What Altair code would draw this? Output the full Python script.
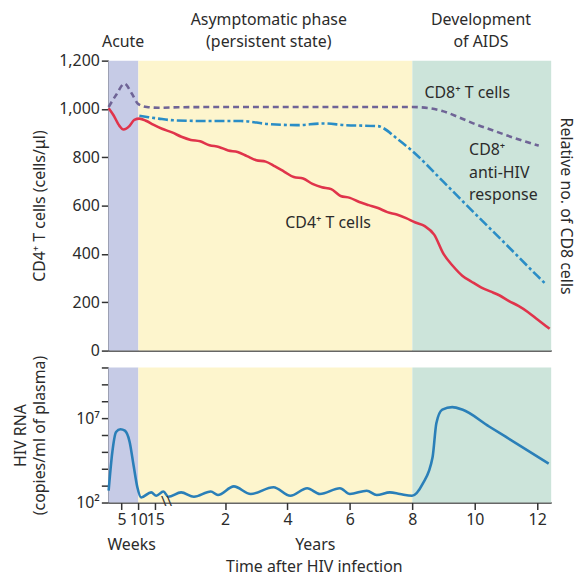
import altair as alt
import pandas as pd

FONT = "Noto Sans"
TEXT = "#2b2b2b"
W = 446
H_TOP = 292
H_BOT = 136

# ---------- broken time axis: a "weeks" segment followed by "years" ----------
WEEK_TICKS = [5, 10, 15]
YEAR_TICKS = [2, 4, 6, 8, 10, 12]


def wk(w):
    """position of a time given in weeks on the broken axis (years run 1:1)"""
    return -1.863 + 0.1083 * w


AXIS_START = wk(1.1)
AXIS_END = 12.45

# ---------- phases ----------
phase_names = ["Acute", "Asymptomatic", "AIDS"]
phase_start = [AXIS_START, wk(10), 8.0]
phase_end = [wk(10), 8.0, AXIS_END]
phase_colors = ["#c6cbe6", "#fdf5cd", "#cce4da"]
phase_label_x = [wk(5.5), 3.4, 10.2]
phase_label_upper = ["", "Asymptomatic phase", "Development"]
phase_label_lower = ["Acute", "(persistent state)", "of AIDS"]

# ---------- CD4+ T cells (cells/ul) ----------
cd4_weeks = [1.2, 2.6, 4.4, 5.6, 7.4, 8.8, 10.3, 12.4, 14.4, 17]
cd4_weeks_vals = [1003, 975, 930, 915, 930, 955, 960, 950, 935, 918]
cd4_years = [0.3, 0.6, 0.9, 1.2, 1.5, 1.8, 2.1, 2.4, 2.7, 3.0, 3.3, 3.6, 3.9,
             4.2, 4.5, 4.8, 5.1, 5.4, 5.7, 6.0, 6.3, 6.6, 6.9, 7.2, 7.5, 7.8,
             8.1, 8.4, 8.7, 9.0, 9.3, 9.6, 9.9, 10.2, 10.5, 10.8, 11.1, 11.4,
             11.7, 12.0, 12.3, 12.4]
cd4_years_vals = [903, 885, 872, 866, 850, 843, 828, 822, 805, 788, 782, 762, 740,
                  718, 712, 690, 676, 668, 640, 632, 615, 602, 590, 573, 563, 548,
                  530, 515, 480, 400, 350, 310, 285, 262, 245, 228, 205, 185,
                  160, 130, 100, 90]

# ---------- CD8+ T cells (relative) ----------
cd8_weeks = [1.2, 3.5, 5.9, 8.0, 10.0, 12.5, 16]
cd8_weeks_vals = [1008, 1060, 1105, 1065, 1020, 1008, 1005]
cd8_years = [0.5, 2, 4, 6, 8.0, 8.5, 9.0, 9.5, 10.0, 10.5, 11.0, 11.5, 12.05]
cd8_years_vals = [1007, 1008, 1008, 1008, 1008, 1004, 990, 965, 938, 915, 892, 870, 848]

# ---------- CD8+ anti-HIV response (relative) ----------
ahiv_weeks = [10.3, 13, 16]
ahiv_weeks_vals = [972, 966, 960]
ahiv_years = [0.35, 1.45, 2.5, 3.36, 4.3, 5.14, 5.86, 6.9, 7.05, 7.5, 8.0, 9.0,
              10.0, 11.0, 12.0, 12.3]
ahiv_years_vals = [953, 950, 950, 938, 933, 940, 933, 929, 922, 878, 826, 698,
                   568, 440, 310, 272]

# ---------- HIV RNA (copies/ml of plasma) ----------
rna_weeks = [1.2, 2.3, 3.4, 4.7, 6.0, 7.4, 8.6, 9.7, 10.8, 13.8, 15.3, 17.4]
rna_weeks_vals = [5e2, 1e5, 1.5e6, 2.2e6, 1.8e6, 4e5, 1.5e4, 8e2, 2e2, 4e2, 2.5e2, 4.5e2]
rna_years = [0.18, 0.59, 1.0, 1.54, 1.77, 2.28, 2.82, 3.55, 4.09, 4.63, 5.04,
             5.68, 6.0, 6.54, 6.86, 7.28, 7.6, 7.99, 8.33, 8.65, 8.77, 8.96,
             9.28, 9.6, 10.46, 11.51, 12.37]
rna_years_vals = [220, 400, 220, 450, 280, 900, 320, 800, 250, 700, 320,
                  700, 320, 500, 280, 400, 320, 250, 1260, 5e4, 5e6, 3.2e7,
                  4.5e7, 3.2e7, 3.2e6, 2e5, 2e4]

RNA_TICKS = [10 ** k for k in range(2, 11)]
CD4_TICKS = [0, 200, 400, 600, 800, 1000, 1200]


def series(weeks, wvals, years, yvals):
    t = [wk(w) for w in weeks] + list(years)
    return pd.DataFrame({"t": t, "value": list(wvals) + list(yvals)})


cd4_df = series(cd4_weeks, cd4_weeks_vals, cd4_years, cd4_years_vals)
cd8_df = series(cd8_weeks, cd8_weeks_vals, cd8_years, cd8_years_vals)
ahiv_df = series(ahiv_weeks, ahiv_weeks_vals, ahiv_years, ahiv_years_vals)
rna_df = series(rna_weeks, rna_weeks_vals, rna_years, rna_years_vals)

phase_df = pd.DataFrame({"phase": phase_names, "start": phase_start, "end": phase_end})
upper_df = pd.DataFrame({"t": phase_label_x, "text": phase_label_upper})
lower_df = pd.DataFrame({"t": phase_label_x, "text": phase_label_lower})

inner_df = pd.DataFrame({
    "t": [8.39, 9.82, 9.82, 9.82, 3.93],
    "value": [1064, 830, 736, 645, 526],
    "text": ["CD8\u207a T cells", "CD8\u207a", "anti-HIV", "response", "CD4\u207a T cells"],
})

tick_vals = [wk(w) for w in WEEK_TICKS] + YEAR_TICKS
tick_labels = [str(w) for w in WEEK_TICKS] + [str(y) for y in YEAR_TICKS]
label_expr = "".join(
    f"abs(datum.value - ({v:.4f})) < 0.01 ? '{l}' : " for v, l in zip(tick_vals, tick_labels)
) + "''"

xscale = alt.Scale(domain=[AXIS_START, AXIS_END], nice=False, zero=False)
phase_color = alt.Color("phase:N", scale=alt.Scale(domain=phase_names, range=phase_colors), legend=None)

# ---------------- top panel ----------------
top_xaxis = alt.Axis(labels=False, ticks=False, title=None, grid=False, domain=True,
                     minExtent=0, maxExtent=0)
ytop = alt.Scale(domain=[0, 1200], nice=False)

bg_top = alt.Chart(phase_df).mark_rect().encode(
    x=alt.X("start:Q", scale=xscale, axis=top_xaxis), x2="end:Q",
    y=alt.value(0), y2=alt.value(H_TOP), color=phase_color)

cd4_line = alt.Chart(cd4_df).mark_line(color="#e0344b", strokeWidth=2.6, interpolate="monotone").encode(
    x=alt.X("t:Q", scale=xscale, axis=top_xaxis),
    y=alt.Y("value:Q", scale=ytop, axis=alt.Axis(
        values=CD4_TICKS, format=",.0f", title="CD4\u207a T cells (cells/\u03bcl)", grid=False,
        minExtent=56, maxExtent=56, titlePadding=5)))

cd8_line = alt.Chart(cd8_df).mark_line(color="#6f6496", strokeWidth=2.6, strokeDash=[6, 4],
                                       interpolate="monotone").encode(
    x=alt.X("t:Q", scale=xscale, axis=top_xaxis),
    y=alt.Y("value:Q", scale=ytop, axis=alt.Axis(
        orient="right", labels=False, ticks=False, domain=False, grid=False,
        title="Relative no. of CD8 cells", titlePadding=6)))

ahiv_line = alt.Chart(ahiv_df).mark_line(color="#2a8dc6", strokeWidth=2.6, strokeDash=[10, 3, 3, 3],
                                         interpolate="monotone").encode(
    x=alt.X("t:Q", scale=xscale, axis=top_xaxis),
    y=alt.Y("value:Q", scale=ytop, axis=None))

inner_text = alt.Chart(inner_df).mark_text(align="left", baseline="middle", font=FONT,
                                           fontSize=16, color=TEXT).encode(
    x=alt.X("t:Q", scale=xscale, axis=top_xaxis),
    y=alt.Y("value:Q", scale=ytop, axis=None), text="text:N")

upper_text = alt.Chart(upper_df).mark_text(align="center", baseline="middle", font=FONT,
                                           fontSize=16, color=TEXT).encode(
    x=alt.X("t:Q", scale=xscale, axis=top_xaxis), y=alt.value(-41), text="text:N")
lower_text = alt.Chart(lower_df).mark_text(align="center", baseline="middle", font=FONT,
                                           fontSize=16, color=TEXT).encode(
    x=alt.X("t:Q", scale=xscale, axis=top_xaxis), y=alt.value(-19), text="text:N")

top = alt.layer(bg_top, cd4_line, cd8_line, ahiv_line, inner_text, upper_text, lower_text).resolve_axis(
    y="independent").properties(width=W, height=H_TOP)

# ---------------- bottom panel ----------------
bot_xaxis = alt.Axis(values=tick_vals, labelExpr=label_expr, labelOverlap=False, labelFlush=False,
                     title=None, grid=False, labelPadding=2)
ybot = alt.Scale(type="log", domain=[1e2, 1e10], nice=False)

bg_bot = alt.Chart(phase_df).mark_rect().encode(
    x=alt.X("start:Q", scale=xscale, axis=bot_xaxis), x2="end:Q",
    y=alt.value(0), y2=alt.value(H_BOT), color=phase_color)

rna_line = alt.Chart(rna_df).mark_line(color="#2a7fb8", strokeWidth=2.6, interpolate="monotone").encode(
    x=alt.X("t:Q", scale=xscale, axis=bot_xaxis),
    y=alt.Y("value:Q", scale=ybot, axis=alt.Axis(
        values=RNA_TICKS, grid=False, labelOverlap=False,
        labelExpr="datum.value == 100 ? '10\u00b2' : (datum.value == 10000000 ? '10\u2077' : '')",
        title=["HIV RNA", "(copies/ml of plasma)"], titleLineHeight=19,
        minExtent=56, maxExtent=56, titlePadding=5)))

units_df = pd.DataFrame({"t": [wk(8), 4.89], "text": ["Weeks", "Years"]})
units_text = alt.Chart(units_df).mark_text(align="center", baseline="middle", font=FONT,
                                           fontSize=16, color=TEXT).encode(
    x=alt.X("t:Q", scale=xscale, axis=bot_xaxis), y=alt.value(H_BOT + 43), text="text:N")

title_df = pd.DataFrame({"t": [4.86], "text": ["Time after HIV infection"]})
title_text = alt.Chart(title_df).mark_text(align="center", baseline="middle", font=FONT,
                                           fontSize=16, color=TEXT).encode(
    x=alt.X("t:Q", scale=xscale, axis=bot_xaxis), y=alt.value(H_BOT + 65), text="text:N")

break_df = pd.DataFrame({"t": [0.12], "text": ["\\\\"]})
break_mark = alt.Chart(break_df).mark_text(align="center", baseline="middle", font=FONT,
                                           fontSize=15, color="#333333").encode(
    x=alt.X("t:Q", scale=xscale, axis=bot_xaxis), y=alt.value(H_BOT - 2), text="text:N")

bottom = alt.layer(bg_bot, rna_line, units_text, title_text, break_mark).properties(width=W, height=H_BOT)

chart = alt.vconcat(top, bottom, spacing=17, bounds="flush").properties(
    padding={"left": 5, "top": 2, "right": 4, "bottom": 0}
).configure_view(stroke=None).configure_axis(
    domainColor="#333333", domainWidth=1.5, tickColor="#333333", tickWidth=1.5, tickSize=7,
    labelFont=FONT, labelFontSize=16, labelColor=TEXT,
    titleFont=FONT, titleFontSize=16, titleFontWeight="normal", titleColor=TEXT,
)

chart.save("out.html", embed_options={"renderer": "svg", "actions": False})
